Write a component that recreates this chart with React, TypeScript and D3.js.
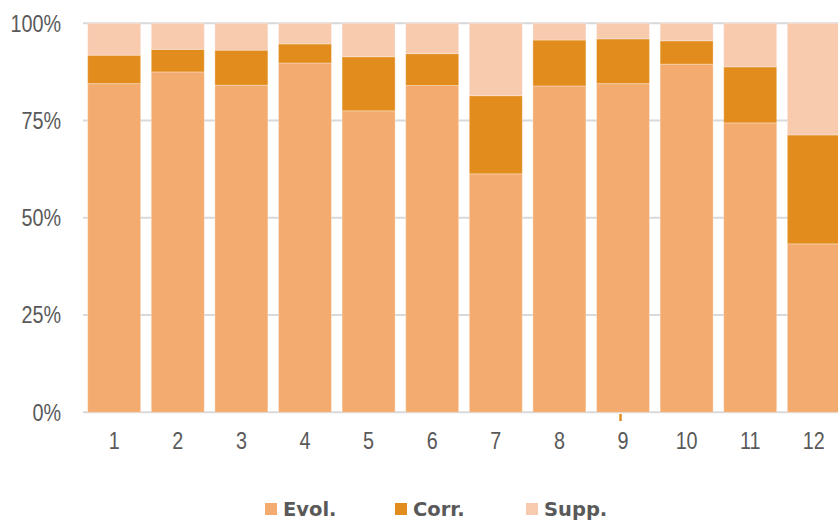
import { useEffect, useRef } from "react";
import * as d3 from "d3";

const categories = ["1", "2", "3", "4", "5", "6", "7", "8", "9", "10", "11", "12"];
// shares of each bar (sum to 1)
const evol = [0.845, 0.875, 0.841, 0.898, 0.775, 0.84, 0.613, 0.839, 0.845, 0.895, 0.744, 0.433];
const corr = [0.073, 0.058, 0.09, 0.049, 0.139, 0.082, 0.201, 0.118, 0.115, 0.06, 0.144, 0.28];
const supp = evol.map((e, i) => 1 - e - corr[i]);
const yTicks = [0, 0.25, 0.5, 0.75, 1];
const seriesNames = ["Evol.", "Corr.", "Supp."];
const COLORS = ["#f4ab6f", "#e28c1d", "#f8caae"];

export default function App() {
  const ref = useRef<SVGSVGElement>(null);

  useEffect(() => {
    if (!ref.current) return;
    const svg = d3.select(ref.current);
    svg.selectAll("*").remove();

    const left = 82.4;
    const right = 845.6;
    const top = 23.3;
    const bottom = 412.3;
    const labelFont = "'Liberation Sans', Arial, sans-serif";

    const x = d3
      .scaleBand<string>()
      .domain(categories)
      .range([left, right])
      .paddingInner(0.167)
      .paddingOuter(0.083);

    const y = d3.scaleLinear().domain([0, 1]).range([bottom, top]);

    // gridlines
    svg
      .append("g")
      .selectAll("line")
      .data(yTicks)
      .join("line")
      .attr("x1", 83)
      .attr("x2", 838)
      .attr("y1", (d) => y(d))
      .attr("y2", (d) => y(d))
      .attr("stroke", "#d9d9d9")
      .attr("stroke-width", 2);

    // stack data
    const rows = categories.map((c, i) => ({ cat: c, evol: evol[i], corr: corr[i], supp: supp[i] }));
    const stack = d3.stack<any>().keys(["evol", "corr", "supp"])(rows);

    svg
      .append("g")
      .selectAll("g")
      .data(stack)
      .join("g")
      .attr("fill", (_, i) => COLORS[i])
      .selectAll("rect")
      .data((d) => d)
      .join("rect")
      .attr("x", (d) => x(d.data.cat)!)
      .attr("width", x.bandwidth())
      .attr("y", (d) => y(d[1]))
      .attr("height", (d) => y(d[0]) - y(d[1]))
      .attr("stroke", "rgba(255,255,255,0.3)")
      .attr("stroke-width", 1);

    // y tick labels (condensed)
    svg
      .append("g")
      .selectAll("text")
      .data(yTicks)
      .join("text")
      .attr("transform", (d) => `translate(61,${y(d)}) scale(0.86,1)`)
      .attr("dy", "0.36em")
      .attr("text-anchor", "end")
      .attr("font-family", labelFont)
      .attr("font-size", 23)
      .attr("fill", "#595959")
      .text((d) => `${Math.round(d * 100)}%`);

    // x labels
    svg
      .append("g")
      .selectAll("text")
      .data(categories)
      .join("text")
      .attr("transform", (d) => `translate(${x(d)! + x.bandwidth() / 2},448.5) scale(0.86,1)`)
      .attr("text-anchor", "middle")
      .attr("font-family", labelFont)
      .attr("font-size", 23)
      .attr("fill", "#595959")
      .text((d) => d);

    // stray orange tick under category 9
    const c9 = x("9")! + x.bandwidth() / 2 - 2.5;
    svg
      .append("line")
      .attr("x1", c9)
      .attr("x2", c9)
      .attr("y1", 414)
      .attr("y2", 421)
      .attr("stroke", "#e28c1d")
      .attr("stroke-width", 2.5);

    // legend
    const legendX = [265, 395, 526];
    const lg = svg
      .append("g")
      .selectAll("g")
      .data(seriesNames)
      .join("g")
      .attr("transform", (_, i) => `translate(${legendX[i]},503)`);
    lg.append("rect")
      .attr("width", 12)
      .attr("height", 12)
      .attr("fill", (_, i) => COLORS[i]);
    lg.append("text")
      .attr("x", 18)
      .attr("y", 12.5)
      .attr("font-family", "'DejaVu Sans', Verdana, sans-serif")
      .attr("font-weight", "bold")
      .attr("font-size", 19.5)
      .attr("fill", "#595959")
      .text((d) => d);
  }, []);

  return (
    <svg
      ref={ref}
      width={838}
      height={520}
      style={{ position: "absolute", left: 0, top: 0, background: "#fff" }}
    />
  );
}
